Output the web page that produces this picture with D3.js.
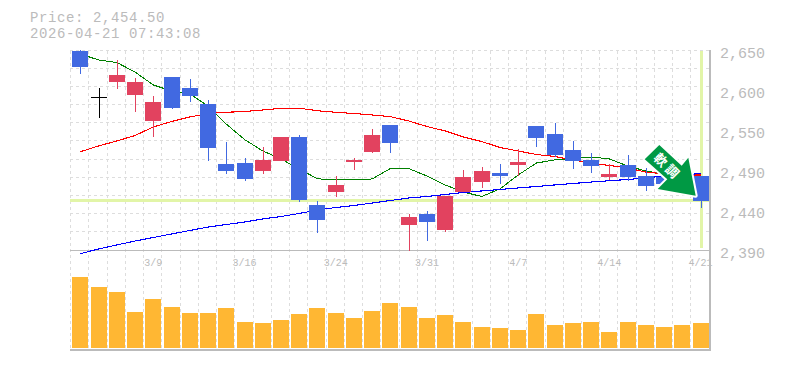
<!DOCTYPE html>
<html>
<head>
<meta charset="utf-8">
<script src="https://cdn.jsdelivr.net/npm/d3@7"></script>
<style>
html,body{margin:0;padding:0;background:#fff;}
svg{display:block;}
text{font-family:"Liberation Mono",monospace;fill:#bbb;}
</style>
</head>
<body>
<svg id="carte"></svg>
<script>
var w = 785, h = 370;

var dates = ["3/3","3/4","3/5","3/6","3/9","3/10","3/11","3/12","3/13","3/16","3/17","3/18","3/19","3/23","3/24","3/25","3/26","3/27","3/30","3/31","4/1","4/2","4/3","4/6","4/7","4/8","4/9","4/10","4/13","4/14","4/15","4/16","4/17","4/20","4/21"];
var dateTicks = ["3/9","3/16","3/24","3/31","4/7","4/14","4/21"];
var priceTicks = [2650,2598,2546,2494,2442,2390];
var priceLabels = ["2,650","2,600","2,550","2,490","2,440","2,390"];

var opens  = [2649.7,2589.2,2609.4,2592.5,2558.7,2615.5,2601.3,2580.4,2502.4,2503.7,2493.7,2506.7,2537.5,2449.2,2466,2505,2518,2553.2,2423.2,2437.4,2416.7,2466,2479,2490.8,2501.2,2551.9,2541.4,2520.7,2507.7,2485.6,2501.2,2486.8,2485.6,2494.7,2486.8];
var closes = [2629,2589.2,2618.2,2609,2583,2575.6,2591.2,2523.6,2493.7,2483.3,2507.7,2537.5,2455.6,2430,2475.2,2507.7,2540.2,2529.7,2433.5,2427,2460.8,2485.6,2493.4,2486.8,2505,2536.3,2514,2506.4,2499.9,2489.4,2485.6,2473.9,2476.5,2481.6,2454.4];
var highs  = [2650.6,2600.9,2637.3,2613.9,2590.9,2615.5,2613,2585.6,2531.4,2510.2,2524.5,2537.5,2540.2,2454.4,2486.8,2510.2,2548,2553.2,2437.4,2441.3,2460.8,2494.7,2498.5,2502.4,2522,2551.9,2555.7,2532.3,2516.7,2502.4,2514.2,2497.2,2494.7,2501.2,2486.8];
var lows   = [2620,2562.6,2600.3,2570.4,2538,2574.3,2583,2506.7,2489.4,2480.7,2489.4,2506.7,2453,2412.7,2459.6,2494.7,2516.7,2516.7,2389.7,2402.3,2414,2466,2471.3,2476.5,2486.8,2524.5,2511.6,2496,2490.7,2481.6,2480.3,2467.3,2471.3,2475,2445.6];
var volumes = [71,61,56,36,49,41,35,35,40,26,25,28,34,40,35,30,37,45,41,30,33,26,21,20,18,34,23,25,26,16,26,23,21,23,25];
var maShort = [2645.4,2637.7,2634.4,2622,2605.2,2597.4,2593.5,2577.9,2554.4,2534.3,2519.4,2509,2496,2483.2,2481.7,2481.7,2483,2496.6,2496.6,2486.8,2475.2,2466,2460.2,2470,2488.2,2503.7,2507.7,2509.6,2511.6,2509,2499.9,2493.3,2489.5,2486.9,2488.2];
var maMid = [2518.4,2525.9,2532.4,2539.5,2550.6,2557.7,2563.6,2568.1,2569.7,2570.7,2572.7,2574.9,2575,2571.7,2569.7,2568.1,2566.2,2564,2558.4,2551.2,2545.4,2537.5,2531.7,2523.9,2519.4,2514.8,2512.2,2507.7,2503.7,2500.5,2497.3,2492,2489.5,2488.2,2488.2];
var maLong = [2385.8,2392,2397.2,2402.3,2406.9,2411.5,2416,2420.5,2423.8,2427,2431,2434.2,2438.1,2442.7,2445.9,2448.5,2451.7,2455,2458.3,2460.2,2462.8,2465.4,2467.4,2469.3,2471.3,2473.2,2475.2,2477.1,2479,2480.7,2482.3,2484.3,2486.9,2488.2,2490.1];
var lastPrice = 2454.5;

var plot = {left: 71.2, right: 709.7, top: 50.5, bottom: 250.5, volTop: 268, volBottom: 348, end: 350};

var svg = d3.select("#carte")
	.attr("width", w)
	.attr("height", h);

var x = d3.scaleBand().domain(dates).range([plot.left, plot.right]);
var y = d3.scaleLinear().domain([2390, 2650]).range([plot.bottom, plot.top]);
var v = d3.scaleLinear().domain([0, 80]).range([plot.volBottom, plot.volTop]);
var cx = function(d){ return x(d) + x.bandwidth()/2; };
var crisp = function(n){ return Math.round(n) + 0.5; };

// grid
var grid = svg.append("g")
	.attr("stroke", "#ddd")
	.attr("stroke-dasharray", "3,3")
	.attr("shape-rendering", "crispEdges");

grid.selectAll(".gv")
	.data(dates.concat("end"))
	.enter()
	.append("line")
	.attr("x1", function(d,i){ return crisp(plot.left + i*x.step()) - 1; })
	.attr("x2", function(d,i){ return crisp(plot.left + i*x.step()) - 1; })
	.attr("y1", plot.top)
	.attr("y2", plot.end);

grid.selectAll(".gh")
	.data(d3.range(12))
	.enter()
	.append("line")
	.attr("x1", 70)
	.attr("x2", 710)
	.attr("y1", function(d){ return crisp(plot.top + d*(plot.bottom-plot.top)/11) - 1; })
	.attr("y2", function(d){ return crisp(plot.top + d*(plot.bottom-plot.top)/11) - 1; });

// frame
var frame = svg.append("g").attr("stroke", "#bbb").attr("stroke-width", 1.5).attr("shape-rendering", "crispEdges");
frame.append("line").attr("x1", 70).attr("x2", 710).attr("y1", 250.5).attr("y2", 250.5);
frame.append("line").attr("x1", 70).attr("x2", 711).attr("y1", 350).attr("y2", 350);
frame.append("line").attr("x1", 710).attr("x2", 710).attr("y1", 50).attr("y2", 351);

// last price highlight
svg.append("line")
	.attr("x1", 70).attr("x2", 709)
	.attr("y1", y(lastPrice)).attr("y2", y(lastPrice))
	.attr("stroke", "#e2f5a8").attr("stroke-width", 3)
	.attr("shape-rendering", "crispEdges");
svg.append("line")
	.attr("x1", cx("4/21") + 0.5).attr("x2", cx("4/21") + 0.5)
	.attr("y1", 51).attr("y2", 248)
	.attr("stroke", "#e2f5a8").attr("stroke-width", 3)
	.attr("shape-rendering", "crispEdges");

// moving averages
var line = d3.line()
	.x(function(d){ return cx(d.date); })
	.y(function(d){ return y(d.value); });

[[maShort, "green", 1], [maMid, "red", 1.1], [maLong, "blue", 1.1]].forEach(function(s){
	svg.append("path")
		.attr("d", line(s[0].map(function(val,i){ return {date: dates[i], value: val}; })))
		.attr("fill", "none")
		.attr("stroke", s[1])
		.attr("stroke-width", s[2])
		.attr("shape-rendering", "crispEdges");
});

// candles
var candleColor = function(i){
	if (opens[i] == closes[i]) return "black";
	return closes[i] > opens[i] ? "#e2425f" : "#4169e1";
};
var candles = svg.append("g").attr("shape-rendering", "crispEdges");

candles.selectAll(".wick")
	.data(dates)
	.enter()
	.append("line")
	.attr("x1", function(d){ return Math.round(cx(d)) + 0.5; })
	.attr("x2", function(d){ return Math.round(cx(d)) + 0.5; })
	.attr("y1", function(d,i){ return y(highs[i]); })
	.attr("y2", function(d,i){ return y(lows[i]); })
	.attr("stroke", function(d,i){ return candleColor(i); });

candles.selectAll(".body")
	.data(dates)
	.enter()
	.append("rect")
	.attr("x", function(d){ return Math.round(cx(d)) - 8; })
	.attr("width", 16)
	.attr("y", function(d,i){ return y(Math.max(opens[i], closes[i])); })
	.attr("height", function(d,i){ return Math.max(1, Math.abs(y(opens[i]) - y(closes[i]))); })
	.attr("fill", function(d,i){ return candleColor(i); });

// volume
svg.append("g").attr("shape-rendering", "crispEdges").selectAll("rect")
	.data(dates)
	.enter()
	.append("rect")
	.attr("x", function(d){ return Math.round(cx(d)) - 8; })
	.attr("width", 16)
	.attr("y", function(d,i){ return v(volumes[i]); })
	.attr("height", function(d,i){ return plot.volBottom - v(volumes[i]); })
	.attr("fill", "#ffb733");

// axes
var axisY = svg.append("g")
	.attr("transform", "translate(712,0)")
	.call(d3.axisRight(y).tickValues(priceTicks).tickSize(0).tickPadding(8)
		.tickFormat(function(d,i){ return priceLabels[i]; }));
axisY.select(".domain").remove();
axisY.selectAll("text").attr("dy", "0.45em").style("font", "15px 'Liberation Mono'").style("fill", "#bbb");

var axisX = svg.append("g")
	.attr("transform", "translate(0,259)")
	.call(d3.axisBottom(x).tickValues(dateTicks).tickSize(0).tickPadding(0));
axisX.select(".domain").remove();
axisX.selectAll("text").attr("dy", "0.71em").style("font", "10px 'Liberation Mono'").style("fill", "#bbb");

// header
svg.append("text").attr("x", 30).attr("y", 22).style("font-size", "14px").style("letter-spacing", "0.6px").text("Price: 2,454.50");
svg.append("text").attr("x", 30).attr("y", 38).style("font-size", "14px").style("letter-spacing", "0.6px").text("2026-04-21 07:43:08");

// signal arrow
var arrow = svg.append("g");
arrow.append("path")
	.attr("d", "M659.3,145L644.7,159.3L667.3,179.3L657.7,189L695.7,195.7L688.3,157.7L681.7,165.7Z")
	.attr("fill", "#009944")
	.attr("stroke", "#fff")
	.attr("stroke-width", 4)
	.attr("stroke-linejoin", "round")
	.attr("paint-order", "stroke");
arrow.append("text")
	.attr("transform", "translate(667.5,166.8) rotate(45)")
	.attr("text-anchor", "middle")
	.attr("dy", "0.36em")
	.style("font", "bold 13px 'Noto Sans CJK JP'")
	.style("letter-spacing", "3px")
	.style("fill", "#fff")
	.text("\u8EDF\u8ABF");
</script>
</body>
</html>
